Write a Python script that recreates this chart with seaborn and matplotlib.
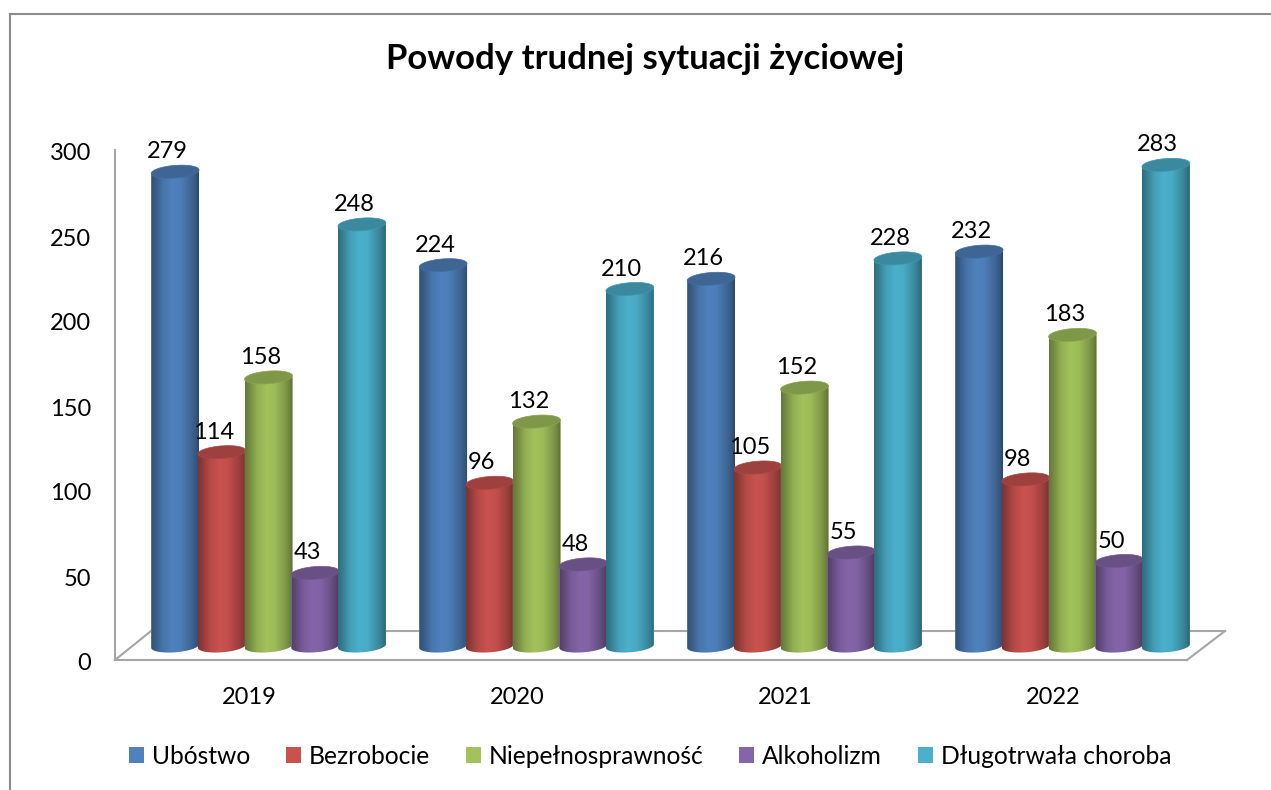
import numpy as np
import pandas as pd
import matplotlib
matplotlib.use("Agg")
import matplotlib.pyplot as plt
from matplotlib.lines import Line2D
from matplotlib.patches import Patch, PathPatch
from matplotlib.path import Path
from matplotlib.transforms import ScaledTranslation
import matplotlib.colors as mc
import seaborn as sns

TITLE = "Powody trudnej sytuacji życiowej"
years = ["2019", "2020", "2021", "2022"]
causes = ["Ubóstwo", "Bezrobocie", "Niepełnosprawność", "Alkoholizm", "Długotrwała choroba"]
ubostwo = [279, 224, 216, 232]
bezrobocie = [114, 96, 105, 98]
niepelno = [158, 132, 152, 183]
alkoholizm = [43, 48, 55, 50]
choroba = [248, 210, 228, 283]
colors = ["#4F81BD", "#C9524F", "#A2C25C", "#8565A9", "#4BB0CB"]

sns.set_theme(style="white")
plt.rcParams["font.family"] = ["Lato", "DejaVu Sans"]
W, H = 1271, 790
FS = 17
LEG_FS = 17.7
fig = plt.figure(figsize=(W / 100, H / 100), dpi=100, facecolor="white")
GRAY = "#A6A6A6"

def fx(p): return p / W
def fy(p): return 1 - p / H
def box(l, r, b, t): return [fx(l), fy(b), (r - l) / W, (b - t) / H]

# Outer chart frame and floor of the pseudo-3D plot
def seg(x0, y0, x1, y1, c=GRAY, lw=1.5):
    fig.add_artist(Line2D([fx(x0), fx(x1)], [fy(y0), fy(y1)], transform=fig.transFigure,
                          color=c, lw=lw, zorder=-1, solid_capstyle="projecting"))
seg(10, 14, W, 14, "#8C8C8C")
seg(10, 14, 10, H, "#8C8C8C")
seg(115, 660, 151, 631)
seg(151, 631, 1225, 631)
seg(1225, 631, 1187, 660)

# Front axis, carrying the ticks
PXU = 1.7
axf = fig.add_axes(box(115, 1187, 660, 660 - 300 * PXU))
axf.patch.set_visible(False)
axf.set_xlim(-0.5, 3.5)
axf.set_ylim(0, 300)
axf.set_xticks(range(4), years)
axf.set_yticks(range(0, 301, 50))
axf.tick_params(axis="y", length=0, pad=17, labelsize=FS, labelcolor="black")
axf.tick_params(axis="x", length=0, pad=19.5, labelsize=FS, labelcolor="black")
for lab in axf.get_yticklabels():
    lab.set_transform(lab.get_transform() + ScaledTranslation(0, -2 / 100, fig.dpi_scale_trans))
for s in ["top", "right"]:
    axf.spines[s].set_visible(False)
for s in ["left", "bottom"]:
    axf.spines[s].set_color(GRAY)
    axf.spines[s].set_linewidth(1.5)

# Back axis, carrying the bars (shifted as in the 3D view)
Y0, YLO, YHI = 646, -15, 320
axb = fig.add_axes(box(134.5, 1206.5, Y0 - YLO * PXU, Y0 - YHI * PXU))
axb.patch.set_visible(False)
df = pd.DataFrame({
    "rok": years * 5,
    "powod": np.repeat(causes, 4),
    "wartosc": ubostwo + bezrobocie + niepelno + alkoholizm + choroba,
})
sns.barplot(data=df, x="rok", y="wartosc", hue="powod", hue_order=causes, order=years,
            palette=colors, width=0.871, gap=0, dodge=True, legend=False, ax=axb, errorbar=None)
axb.set_xlim(-0.5, 3.5)
axb.set_ylim(YLO, YHI)
axb.axis("off")

PX = 268.0
BAR_W = 48.0
A, B = BAR_W / 2, 6.3
TH = np.radians(4.5)

def ell(t):
    return (A * np.cos(t) * np.cos(TH) - B * np.sin(t) * np.sin(TH),
            A * np.cos(t) * np.sin(TH) + B * np.sin(t) * np.cos(TH))

stops_t = [0, 0.08, 0.25, 0.45, 0.62, 0.85, 0.95, 1]
stops_v = [0.62, 0.70, 0.90, 1.0, 0.97, 0.78, 0.66, 0.55]
tt = np.linspace(0, 1, 128)
shade = np.interp(tt, stops_t, stops_v)

bars = list(axb.patches)[:20]
for k, bar in enumerate(bars):
    i = k // 4
    base = np.array(mc.to_rgb(colors[i]))
    cx = bar.get_x() + bar.get_width() / 2
    val = bar.get_height()
    w = BAR_W / PX
    bar.set_x(cx - w / 2)
    bar.set_width(w)
    z = 3 + i
    bar.set_zorder(z)
    t_low = np.linspace(np.pi, 2 * np.pi, 50)
    ex, ey = ell(t_low)
    xs = np.r_[cx + ex / PX, cx + ex[0] * -1 / PX, cx + ex[0] / PX]
    ys = np.r_[ey / PXU, val - ey[0] / PXU, val + ey[0] / PXU]
    verts = np.c_[xs, ys]
    body = Path(np.r_[verts, verts[:1]], closed=True)
    bar.set_clip_path(body, axb.transData)
    img = np.clip(shade[None, :, None] * base[None, None, :], 0, 1)
    lowest = (B + 3) / PXU
    im = axb.imshow(img, extent=[cx - w / 2, cx + w / 2, -lowest, val + lowest],
                    aspect="auto", zorder=z + 0.1, interpolation="bilinear")
    im.set_clip_path(body, axb.transData)
    t_all = np.linspace(0, 2 * np.pi, 80)
    tx, ty = ell(t_all)
    top = Path(np.c_[cx + tx / PX, val + ty / PXU], closed=False)
    axb.add_patch(PathPatch(top, facecolor=base * 0.78, edgecolor=base * 0.85, lw=0.5, zorder=z + 0.2))
    axb.annotate(f"{int(val)}", (cx, val), xytext=(-8 * 0.72, 20 * 0.72), textcoords="offset points",
                 ha="center", va="center", fontsize=FS, color="black", zorder=30, annotation_clip=False)

axb.set_xlim(-0.5, 3.5)
axb.set_ylim(YLO, YHI)

fig.text(fx(645), fy(59), TITLE, ha="center", va="center", fontsize=25, fontweight="bold", color="black")

handles = [Patch(facecolor=c, edgecolor="none", label=n) for c, n in zip(colors, causes)]
fig.legend(handles=handles, loc="center", bbox_to_anchor=(fx(650), fy(756)), ncol=5, frameon=False,
           fontsize=LEG_FS, handlelength=0.62, handleheight=0.62, handletextpad=0.33,
           columnspacing=1.44, borderpad=0, labelcolor="black")

fig.savefig("out.png", dpi=100)
